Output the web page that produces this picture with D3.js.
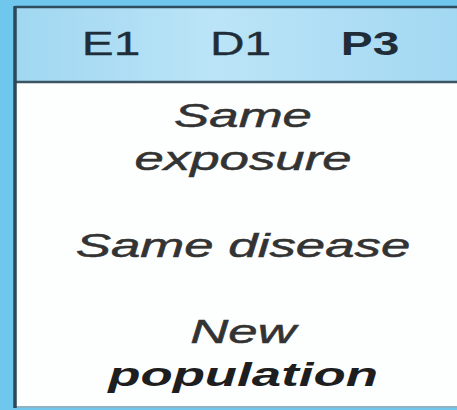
<!DOCTYPE html>
<html>
<head>
<meta charset="utf-8">
<script src="https://cdn.jsdelivr.net/npm/d3@7"></script>
<style>
  html, body { margin: 0; padding: 0; background: #6fc7ee; }
  svg { display: block; }
</style>
</head>
<body>
<div id="chart"></div>
<script>
// header columns
const headers = ["E1", "D1", "P3"];
const headerBold = [false, false, true];

// body groups, one entry per text line
const groups = ["exposure", "disease", "population"];
const lines = [
  { group: "exposure", text: "Same", bold: false },
  { group: "exposure", text: "exposure", bold: false },
  { group: "disease", text: "Same disease", bold: false },
  { group: "population", text: "New", bold: false },
  { group: "population", text: "population", bold: true }
];

const width = 457, height = 410;
const box = { left: 15, top: 7, bottom: 407 };
const headerH = 75;
const fontSize = 33, stretch = 1.6, lineGap = 43;

const svg = d3.select("#chart").append("svg")
  .attr("width", width)
  .attr("height", height);

const defs = svg.append("defs");
const grad = defs.append("linearGradient").attr("id", "hdr");
grad.append("stop").attr("offset", "0%").attr("stop-color", "#a0d7f1");
grad.append("stop").attr("offset", "45%").attr("stop-color", "#bbe4f7");
grad.append("stop").attr("offset", "100%").attr("stop-color", "#a2d8f2");

// outer blue background
svg.append("rect")
  .attr("width", width).attr("height", height)
  .attr("fill", "#6fc7ee");

// box body
svg.append("rect")
  .attr("x", box.left).attr("y", box.top)
  .attr("width", width - box.left + 5)
  .attr("height", box.bottom - box.top)
  .attr("fill", "#fdfefe");

// header band
svg.append("rect")
  .attr("x", box.left).attr("y", box.top)
  .attr("width", width - box.left + 5)
  .attr("height", headerH)
  .attr("fill", "url(#hdr)");

// borders
svg.append("line")
  .attr("x1", box.left).attr("x2", width)
  .attr("y1", box.top + headerH).attr("y2", box.top + headerH)
  .attr("stroke", "#3d5562").attr("stroke-width", 2.5);
svg.append("line")
  .attr("x1", box.left).attr("x2", width)
  .attr("y1", box.top).attr("y2", box.top)
  .attr("stroke", "#2f4d5e").attr("stroke-width", 2.5);
svg.append("line")
  .attr("x1", box.left).attr("x2", width)
  .attr("y1", box.bottom).attr("y2", box.bottom)
  .attr("stroke", "#8fb4c6").attr("stroke-width", 2);
svg.append("line")
  .attr("x1", box.left).attr("x2", box.left)
  .attr("y1", box.top - 1).attr("y2", box.bottom + 1)
  .attr("stroke", "#2b4858").attr("stroke-width", 3.5);

// header labels
const x = d3.scalePoint()
  .domain(headers)
  .range([111, 370]);

svg.selectAll(".hdr-label")
  .data(headers)
  .enter().append("text")
  .attr("class", "hdr-label")
  .attr("transform", d => "translate(" + x(d) + "," + 55 + ") scale(" + 1.45 + ",1)")
  .attr("text-anchor", "middle")
  .attr("font-family", "Liberation Sans, Arial, sans-serif")
  .attr("font-size", fontSize)
  .attr("font-weight", (d, i) => headerBold[i] ? "bold" : "normal")
  .attr("fill", "#1f2d38")
  .attr("stroke", "#1f2d38")
  .attr("stroke-width", (d, i) => headerBold[i] ? 0 : 0.3)
  .text(d => d);

// body lines
const y = d3.scaleBand()
  .domain(groups)
  .range([box.top + headerH, box.bottom]);

lines.forEach(function(l) {
  const inGroup = lines.filter(o => o.group === l.group);
  l.idx = inGroup.indexOf(l);
  l.n = inGroup.length;
});

svg.selectAll(".body-line")
  .data(lines)
  .enter().append("text")
  .attr("class", "body-line")
  .attr("transform", d => {
    const cy = y(d.group) + y.bandwidth() / 2 + (d.idx - (d.n - 1) / 2) * lineGap + 12;
    return "translate(" + 243 + "," + cy + ") scale(" + stretch + ",1)";
  })
  .attr("text-anchor", "middle")
  .attr("font-family", "Liberation Sans, Arial, sans-serif")
  .attr("font-size", fontSize)
  .attr("font-style", "italic")
  .attr("font-weight", d => d.bold ? "bold" : "normal")
  .attr("fill", d => d.bold ? "#1e1e1e" : "#333")
  .attr("stroke", d => d.bold ? "none" : "#333")
  .attr("stroke-width", 0.5)
  .text(d => d.text);
</script>
</body>
</html>
